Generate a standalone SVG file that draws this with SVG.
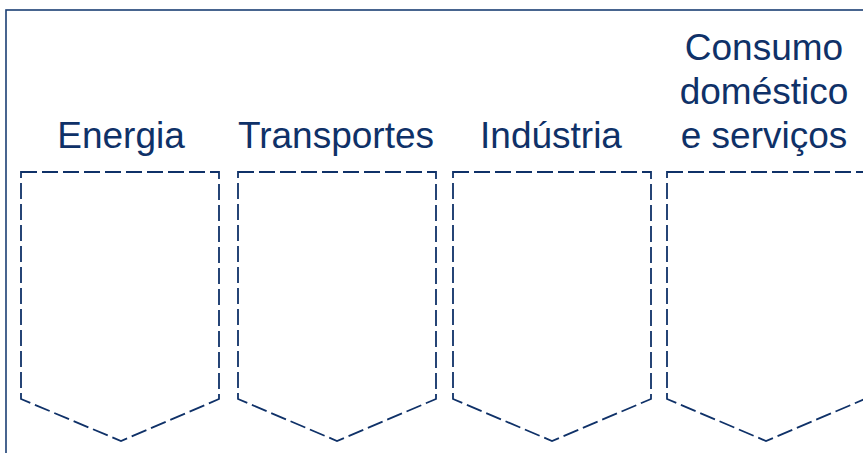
<svg xmlns="http://www.w3.org/2000/svg" width="863" height="453" viewBox="0 0 863 453">
  <style>
    .frame { fill: none; stroke: #1b3f74; stroke-width: 1.6; }
    .sector { fill: none; stroke: #0f3168; stroke-width: 1.8; stroke-dasharray: 16 5; }
    .label { font-family: "Liberation Sans", Arial, sans-serif; font-size: 37px; fill: #0f3168; text-anchor: middle; }
  </style>
  <rect width="863" height="453" fill="#ffffff"/>
  <!-- outer frame, open beyond the right and bottom edges -->
  <rect class="frame" x="6" y="10" width="870" height="460"/>

  <g id="energia">
    <path class="sector" d="M21,172 H219 V399 L121,441 L21,399 Z"/>
    <text class="label" x="121" y="148">Energia</text>
  </g>
  <g id="transportes">
    <path class="sector" d="M238,172 H436 V399 L337,441 L238,399 Z"/>
    <text class="label" x="336" y="148">Transportes</text>
  </g>
  <g id="industria">
    <path class="sector" d="M453,172 H651 V399 L552,441 L453,399 Z"/>
    <text class="label" x="551" y="148">Indústria</text>
  </g>
  <g id="consumo">
    <path class="sector" d="M667,172 H865 V399 L766,441 L667,399 Z"/>
    <text class="label" x="764" y="60">Consumo</text>
    <text class="label" x="764" y="104">doméstico</text>
    <text class="label" x="764" y="148">e serviços</text>
  </g>
  <g id="connectors"/>
</svg>
